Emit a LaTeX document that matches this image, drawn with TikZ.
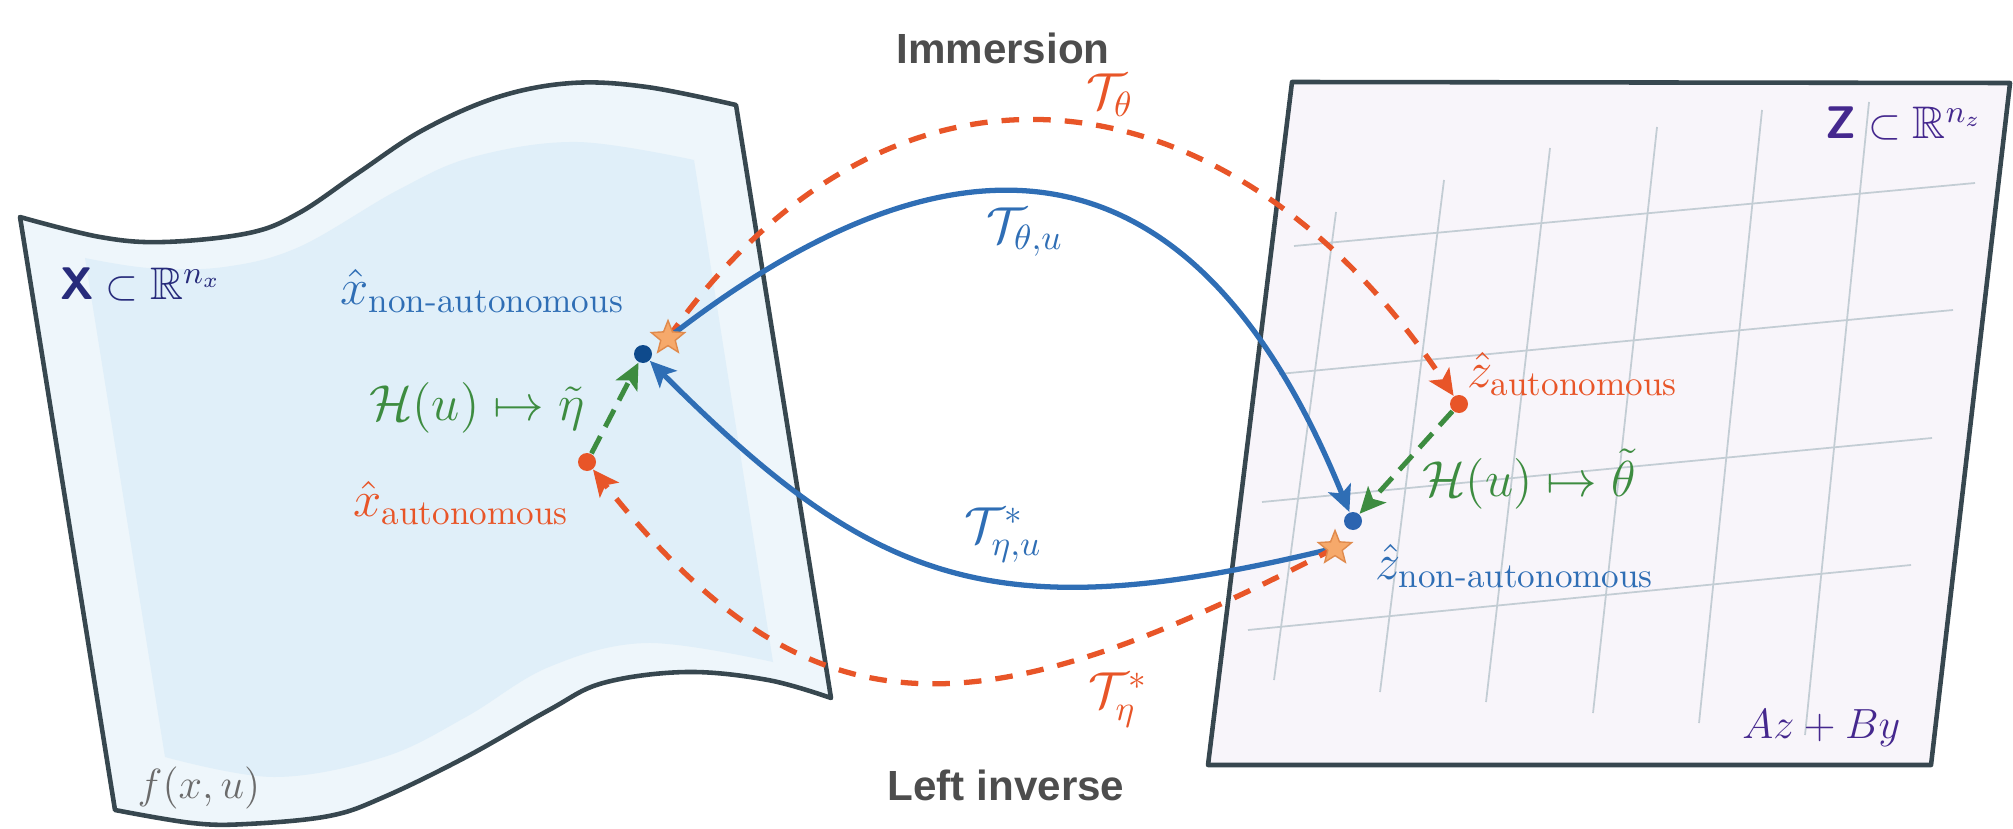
\documentclass[tikz,border=0pt]{standalone}
\usepackage{fontspec,amsmath,amssymb,tikz}
\usetikzlibrary{arrows.meta,shapes.geometric}
\newfontfamily\headfont{Liberation Sans}
\definecolor{slate}{HTML}{37474F}
\definecolor{paleblue}{HTML}{EEF6FB}
\definecolor{sheetblue}{HTML}{E0EFF9}
\definecolor{palelilac}{HTML}{F8F5FA}
\definecolor{gridgray}{HTML}{C3CDD4}
\definecolor{mapblue}{HTML}{2F6EB5}
\definecolor{deepblue}{HTML}{0E4A8C}
\definecolor{dotblue}{HTML}{2C64B0}
\definecolor{maporange}{HTML}{E85528}
\definecolor{starorange}{HTML}{F6A96B}
\definecolor{starrim}{HTML}{E08A4C}
\definecolor{mapgreen}{HTML}{3D8C40}
\definecolor{indigo}{HTML}{272B7B}
\definecolor{violet}{HTML}{45288E}
\definecolor{headgray}{HTML}{4D4D4D}
\definecolor{labelgray}{HTML}{6B6B6B}

\begin{document}
\begin{tikzpicture}[font=\Large,
  dotnode/.style={circle,inner sep=0pt,minimum size=1.8mm},
  starnode/.style={star,star points=5,star point ratio=2.3,inner sep=0pt,minimum size=3.5mm,fill=starorange,draw=starrim,line width=.4pt},
  arrowtip/.style={-{Stealth[length=2.6mm,width=2.4mm,inset=.6mm]}},
  solidmap/.style={arrowtip,draw=mapblue,line width=1.5pt},
  dashmap/.style={arrowtip,draw=maporange,line width=1.5pt,dash pattern=on 5pt off 4pt},
  hmap/.style={arrowtip,draw=mapgreen,line width=1.4pt,dash pattern=on 5.5pt off 3pt},
  mathlabel/.style={inner sep=0pt},
  headline/.style={font=\headfont\bfseries\large,text=headgray}]
\useasboundingbox (0,0) rectangle (20.13,8.28);
% Left sheet: the curved state space.
\draw[slate,line width=1.3pt,fill=paleblue,line join=round]
  plot[smooth,tension=.6] coordinates {(0.20,6.11) (1.00,5.91) (1.64,5.86) (2.49,5.95) (2.99,6.15) (3.58,6.55) (4.23,6.98) (4.98,7.31) (5.72,7.45) (6.47,7.41) (7.36,7.23)}
  -- plot[smooth,tension=.6] coordinates {(8.31,1.30) (7.68,1.48) (6.86,1.56) (6.03,1.45) (5.49,1.18) (4.66,0.71) (3.84,0.31) (3.29,0.12) (2.47,0.04) (1.92,0.05) (1.15,0.18)}
  -- cycle;
\fill[sheetblue]
  plot[smooth,tension=.6] coordinates {(0.85,5.70) (1.49,5.60) (2.24,5.61) (2.99,5.81) (3.98,6.38) (4.73,6.71) (5.77,6.86) (6.94,6.68)}
  -- plot[smooth,tension=.6] coordinates {(7.73,1.66) (6.47,1.85) (5.49,1.61) (4.66,1.11) (3.84,0.71) (2.74,0.51) (1.65,0.71)}
  -- cycle;
% Right sheet: the flat latent space with its grid.
\draw[slate,line width=1.3pt,fill=palelilac,line join=round] (12.92,7.46) -- (20.10,7.45) -- (19.31,0.63) -- (12.08,0.63) -- cycle;
\foreach \xa/\ya/\xb/\yb in {12.94/5.82/19.75/6.45,12.79/4.54/19.53/5.18,12.62/3.26/19.32/3.90,12.48/1.98/19.11/2.63}{\draw[gridgray,line width=.5pt] (\xa,\ya) -- (\xb,\yb);}
\foreach \xa/\ya/\xb/\yb in {13.36/6.16/12.74/1.48,14.44/6.48/13.80/1.36,15.50/6.80/14.86/1.26,16.57/7.01/15.93/1.15,17.62/7.18/16.99/1.05,18.69/7.26/18.05/0.93}{\draw[gridgray,line width=.5pt] (\xa,\ya) -- (\xb,\yb);}
\node[mathlabel,anchor=west,text=indigo,font=\fontsize{13}{15}\selectfont] (xspace) at (0.60,5.44) {$\text{\sffamily\bfseries X}\subset\mathbb{R}^{n_x}$};
\node[mathlabel,anchor=west,text=labelgray,font=\large] (fxu) at (1.37,0.40) {$f(x,u)$};
\node[mathlabel,anchor=east,text=violet,font=\fontsize{13}{15}\selectfont] (zspace) at (19.83,7.05) {$\text{\sffamily\bfseries Z}\subset\mathbb{R}^{n_z}$};
\node[mathlabel,anchor=east,text=violet,font=\large] (azby) at (19.01,1.00) {$Az+By$};
\node[headline] (immersion) at (10.03,7.80) {Immersion};
\node[headline] (leftinv) at (10.06,0.43) {Left inverse};
% Points in both spaces; the stars go on top of the maps at the end.
\node[dotnode,fill=deepblue] (xnon) at (6.43,4.74) {};
\coordinate (xstar) at (6.68,4.90);
\node[dotnode,fill=maporange] (xauto) at (5.87,3.66) {};
\node[dotnode,fill=maporange] (zauto) at (14.59,4.24) {};
\node[dotnode,fill=dotblue] (znon) at (13.53,3.07) {};
\coordinate (zstar) at (13.35,2.80);
\node[mathlabel,anchor=west,text=mapblue] (xnonlabel) at (3.40,5.37) {$\hat{x}_{\text{non-autonomous}}$};
\node[mathlabel,anchor=west,text=maporange] (xautolabel) at (3.53,3.25) {$\hat{x}_{\text{autonomous}}$};
\node[mathlabel,anchor=east,text=mapgreen] (hxlabel) at (5.85,4.20) {$\mathcal{H}(u)\mapsto\tilde{\eta}$};
\node[mathlabel,anchor=west,text=maporange] (zautolabel) at (14.67,4.54) {$\hat{z}_{\text{autonomous}}$};
\node[mathlabel,anchor=west,text=mapgreen] (hzlabel) at (14.22,3.49) {$\mathcal{H}(u)\mapsto\tilde{\theta}$};
\node[mathlabel,anchor=west,text=mapblue] (znonlabel) at (13.75,2.62) {$\hat{z}_{\text{non-autonomous}}$};
% Maps between the sheets.
\draw[dashmap] (xstar) .. controls (8.99,8.16) and (12.37,7.57) .. (zauto);
\draw[solidmap] (xstar) .. controls (9.60,7.17) and (11.95,6.96) .. (znon);
\draw[solidmap] (zstar) .. controls (9.95,1.97) and (8.76,2.41) .. (xnon);
\draw[dashmap] (zstar) .. controls (9.78,0.95) and (8.12,0.83) .. (xauto);
\draw[hmap] (xauto) -- (xnon);
\draw[hmap] (zauto) -- (znon);
\node[starnode] (xstarmark) at (xstar) {};
\node[starnode] (zstarmark) at (zstar) {};
\node[mathlabel,text=maporange] (ttheta) at (11.10,7.33) {$\mathcal{T}_{\theta}$};
\node[mathlabel,text=mapblue] (tthetau) at (10.25,5.96) {$\mathcal{T}_{\theta,u}$};
\node[mathlabel,text=mapblue] (tetau) at (10.03,2.93) {$\mathcal{T}^{*}_{\eta,u}$};
\node[mathlabel,text=maporange] (teta) at (11.18,1.28) {$\mathcal{T}^{*}_{\eta}$};
\end{tikzpicture}
\end{document}
